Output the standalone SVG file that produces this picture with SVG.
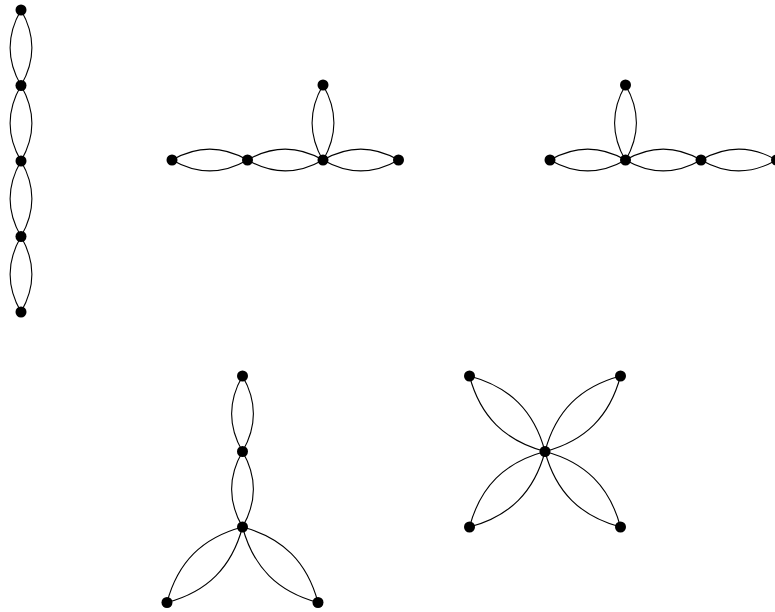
<svg xmlns="http://www.w3.org/2000/svg" xmlns:xlink="http://www.w3.org/1999/xlink" width="775" height="612" viewBox="0 0 775 612">
<style>
.e{fill:none;stroke:#000;stroke-width:1.1}
.n{fill:#000}
</style>
<defs>
<path id="L" class="e" d="M0,0 C25.6,-14.78 49.9,-14.78 75.5,0 C49.9,14.78 25.6,14.78 0,0Z"/>
<path id="D" class="e" d="M0,0 C36.2,-20.9 70.57,-20.9 106.77,0 C70.57,20.9 36.2,20.9 0,0Z"/>
</defs>
<rect width="775" height="612" fill="#fff"/>
<g id="connectors">
<use xlink:href="#L" href="#L" transform="translate(21,10) rotate(90)"/>
<use xlink:href="#L" href="#L" transform="translate(21,85.5) rotate(90)"/>
<use xlink:href="#L" href="#L" transform="translate(21,161) rotate(90)"/>
<use xlink:href="#L" href="#L" transform="translate(21,236.5) rotate(90)"/>
<use xlink:href="#L" href="#L" transform="translate(172,160)"/>
<use xlink:href="#L" href="#L" transform="translate(247.5,160)"/>
<use xlink:href="#L" href="#L" transform="translate(323,160)"/>
<use xlink:href="#L" href="#L" transform="translate(323,85) rotate(90)"/>
<use xlink:href="#L" href="#L" transform="translate(550,160)"/>
<use xlink:href="#L" href="#L" transform="translate(625.5,160)"/>
<use xlink:href="#L" href="#L" transform="translate(701,160)"/>
<use xlink:href="#L" href="#L" transform="translate(625.5,85) rotate(90)"/>
<use xlink:href="#L" href="#L" transform="translate(242.5,376) rotate(90)"/>
<use xlink:href="#L" href="#L" transform="translate(242.5,451.5) rotate(90)"/>
<use xlink:href="#D" href="#D" transform="translate(242.5,527) rotate(135)"/>
<use xlink:href="#D" href="#D" transform="translate(242.5,527) rotate(45)"/>
<use xlink:href="#D" href="#D" transform="translate(545,451.5) rotate(-135)"/>
<use xlink:href="#D" href="#D" transform="translate(545,451.5) rotate(-45)"/>
<use xlink:href="#D" href="#D" transform="translate(545,451.5) rotate(135)"/>
<use xlink:href="#D" href="#D" transform="translate(545,451.5) rotate(45)"/>
</g>
<g id="a1"><circle class="n" cx="21" cy="10" r="5.5"/></g>
<g id="a2"><circle class="n" cx="21" cy="85.5" r="5.5"/></g>
<g id="a3"><circle class="n" cx="21" cy="161" r="5.5"/></g>
<g id="a4"><circle class="n" cx="21" cy="236.5" r="5.5"/></g>
<g id="a5"><circle class="n" cx="21" cy="312" r="5.5"/></g>
<g id="b1"><circle class="n" cx="172" cy="160" r="5.5"/></g>
<g id="b2"><circle class="n" cx="247.5" cy="160" r="5.5"/></g>
<g id="b3"><circle class="n" cx="323" cy="160" r="5.5"/></g>
<g id="b4"><circle class="n" cx="398.5" cy="160" r="5.5"/></g>
<g id="b5"><circle class="n" cx="323" cy="85" r="5.5"/></g>
<g id="c1"><circle class="n" cx="550" cy="160" r="5.5"/></g>
<g id="c2"><circle class="n" cx="625.5" cy="160" r="5.5"/></g>
<g id="c3"><circle class="n" cx="701" cy="160" r="5.5"/></g>
<g id="c4"><circle class="n" cx="776.5" cy="160" r="5.5"/></g>
<g id="c5"><circle class="n" cx="625.5" cy="85" r="5.5"/></g>
<g id="d1"><circle class="n" cx="242.5" cy="376" r="5.5"/></g>
<g id="d2"><circle class="n" cx="242.5" cy="451.5" r="5.5"/></g>
<g id="d3"><circle class="n" cx="242.5" cy="527" r="5.5"/></g>
<g id="d4"><circle class="n" cx="167" cy="602.5" r="5.5"/></g>
<g id="d5"><circle class="n" cx="318" cy="602.5" r="5.5"/></g>
<g id="e1"><circle class="n" cx="545" cy="451.5" r="5.5"/></g>
<g id="e2"><circle class="n" cx="469.5" cy="376" r="5.5"/></g>
<g id="e3"><circle class="n" cx="620.5" cy="376" r="5.5"/></g>
<g id="e4"><circle class="n" cx="469.5" cy="527" r="5.5"/></g>
<g id="e5"><circle class="n" cx="620.5" cy="527" r="5.5"/></g>
</svg>
